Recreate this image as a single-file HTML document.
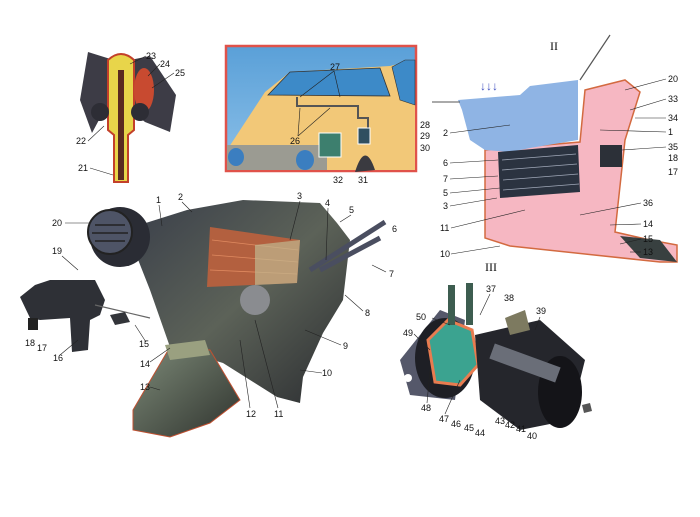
<!DOCTYPE html>
<html><head><meta charset="utf-8"><style>
html,body{margin:0;padding:0;background:#fff;}
svg{display:block}
text{font-family:"Liberation Sans",sans-serif;font-size:9px;fill:#111;}
.l{stroke:#222;stroke-width:0.6;fill:none}
</style></head><body>
<svg width="700" height="517" viewBox="0 0 700 517" xmlns="http://www.w3.org/2000/svg">
<defs>
<linearGradient id="dk" x1="0" y1="0" x2="1" y2="1"><stop offset="0" stop-color="#3a3f4a"/><stop offset="0.5" stop-color="#5c6258"/><stop offset="1" stop-color="#2a2c30"/></linearGradient>
<linearGradient id="duct" x1="0" y1="0" x2="1" y2="1"><stop offset="0" stop-color="#7d8a78"/><stop offset="1" stop-color="#2f332e"/></linearGradient>
<linearGradient id="sky" x1="0" y1="0" x2="0" y2="1"><stop offset="0" stop-color="#5aa0d8"/><stop offset="1" stop-color="#8cc0e8"/></linearGradient>
</defs>

<!-- Part I -->
<polygon points="88,52 120,62 150,56 176,95 170,132 145,122 140,118 100,118 92,133 80,100" fill="#3d3c46"/>
<path d="M108,60 Q121,48 134,60 L134,130 L128,135 L128,182 L114,182 L114,135 L108,130 Z" fill="#e8d54a" stroke="#c3402a" stroke-width="2"/>
<rect x="118" y="70" width="6" height="110" fill="#5a2a20"/>
<ellipse cx="144" cy="90" rx="10" ry="22" fill="#c84a30"/>
<ellipse cx="100" cy="112" rx="9" ry="9" fill="#2d2d35"/>
<ellipse cx="140" cy="112" rx="9" ry="9" fill="#2d2d35"/>
<text x="146" y="59">23</text><text x="160" y="67">24</text><text x="175" y="76">25</text>
<text x="76" y="144">22</text><text x="78" y="171">21</text>
<line class="l" x1="146" y1="56" x2="130" y2="64"/><line class="l" x1="160" y1="64" x2="148" y2="76"/><line class="l" x1="174" y1="73" x2="152" y2="88"/>
<line class="l" x1="88" y1="141" x2="104" y2="126"/><line class="l" x1="90" y1="168" x2="113" y2="175"/>

<!-- Car box -->
<rect x="226" y="46" width="190" height="125" fill="url(#sky)" stroke="#e0524a" stroke-width="2.5"/>
<polygon points="227,150 265,92 290,72 390,66 415,60 415,170 227,170" fill="#f2c878"/>
<polygon points="268,95 290,72 380,68 390,96" fill="#3d8ac8" stroke="#333" stroke-width="0.8"/>
<polygon points="392,67 405,60 415,60 415,105 400,100" fill="#3d8ac8" stroke="#333" stroke-width="0.6"/>
<rect x="227" y="145" width="100" height="25" fill="#9b9b92"/>
<ellipse cx="236" cy="157" rx="8" ry="9" fill="#3b7ec0"/>
<ellipse cx="305" cy="160" rx="9" ry="10" fill="#3b7ec0"/>
<path d="M355,172 Q365,140 375,170" fill="#3a3a40"/>
<polyline class="l" points="297,97 297,106 358,106 358,118 368,118 368,132" style="stroke:#555;stroke-width:2"/>
<rect x="319" y="133" width="22" height="24" fill="#3d7f6e" stroke="#fff"/>
<rect x="358" y="128" width="12" height="16" fill="#2f4f60" stroke="#fff"/>
<text x="330" y="70">27</text><text x="290" y="144">26</text>
<text x="420" y="128">28</text><text x="420" y="139">29</text><text x="420" y="151">30</text>
<text x="333" y="183">32</text><text x="358" y="183">31</text>
<line class="l" x1="334" y1="71" x2="300" y2="97"/><line class="l" x1="334" y1="71" x2="340" y2="97"/>
<line class="l" x1="298" y1="136" x2="300" y2="108"/><line class="l" x1="298" y1="136" x2="330" y2="108"/>

<!-- Part II -->
<text x="550" y="50" style="font-family:'Liberation Serif',serif;font-size:12px">II</text>
<polygon points="485,150 580,142 585,90 625,80 640,92 625,140 615,232 650,240 677,245 677,262 660,262 510,246 485,238" fill="#f6b7c2" stroke="#d36a40" stroke-width="1.5"/>
<polygon points="458,100 520,95 530,86 578,80 578,140 530,148 510,152 485,150 470,140 462,110" fill="#8fb4e4"/>
<polygon points="498,152 578,145 580,192 500,198" fill="#2b3340"/>
<g stroke="#a0a8b8" stroke-width="0.8">
<line x1="502" y1="160" x2="576" y2="154"/><line x1="502" y1="170" x2="577" y2="164"/><line x1="503" y1="180" x2="578" y2="174"/><line x1="503" y1="190" x2="579" y2="184"/>
</g>
<line x1="610" y1="35" x2="580" y2="80" stroke="#555" stroke-width="1.2"/>
<line x1="432" y1="102" x2="460" y2="102" stroke="#555"/>
<rect x="600" y="145" width="22" height="22" fill="#2c3038"/>
<polygon points="620,236 660,240 677,262 640,258" fill="#384040"/>
<g fill="#3f52b8"><text x="480" y="90" style="fill:#4050c0;font-size:12px">↓↓↓</text></g>
<text x="548" y="45" style="font-size:0"> </text>
<text x="443" y="136">2</text><text x="443" y="166">6</text><text x="443" y="182">7</text><text x="443" y="196">5</text><text x="443" y="209">3</text><text x="440" y="231">11</text><text x="440" y="257">10</text>
<text x="668" y="82">20</text><text x="668" y="102">33</text><text x="668" y="121">34</text><text x="668" y="135">1</text><text x="668" y="150">35</text><text x="668" y="161">18</text><text x="668" y="175">17</text>
<text x="643" y="206">36</text><text x="643" y="227">14</text><text x="643" y="242">15</text><text x="643" y="255">13</text>
<g class="l"><line x1="450" y1="133" x2="510" y2="125"/><line x1="450" y1="163" x2="498" y2="160"/><line x1="450" y1="179" x2="498" y2="176"/><line x1="450" y1="193" x2="500" y2="188"/><line x1="450" y1="206" x2="497" y2="198"/><line x1="451" y1="228" x2="525" y2="210"/><line x1="451" y1="254" x2="500" y2="246"/>
<line x1="666" y1="79" x2="625" y2="90"/><line x1="666" y1="99" x2="630" y2="110"/><line x1="666" y1="118" x2="635" y2="118"/><line x1="666" y1="132" x2="600" y2="130"/><line x1="666" y1="147" x2="622" y2="150"/><line x1="641" y1="203" x2="580" y2="215"/><line x1="641" y1="224" x2="610" y2="225"/><line x1="641" y1="239" x2="620" y2="244"/><line x1="641" y1="252" x2="630" y2="252"/></g>
<text x="485" y="271" style="font-family:'Liberation Serif',serif;font-size:12px">III</text>

<!-- Part III -->
<polygon points="400,360 440,310 465,320 455,400 410,395" fill="#55586a"/>
<circle cx="408" cy="378" r="4" fill="#fff"/>
<ellipse cx="445" cy="358" rx="30" ry="40" fill="#1e1f25"/>
<polygon points="428,340 448,320 472,330 478,365 460,385 435,382" fill="#3ba390" stroke="#e87c50" stroke-width="3"/>
<polygon points="475,335 540,320 585,360 570,420 520,430 480,400" fill="#25262c"/>
<ellipse cx="560" cy="392" rx="22" ry="36" fill="#141418"/>
<rect x="490" y="355" width="70" height="16" fill="#6a6e78" transform="rotate(20 525 363)"/>
<rect x="448" y="285" width="7" height="40" fill="#3d5d50"/><rect x="466" y="283" width="7" height="42" fill="#3d5d50"/>
<polygon points="505,318 525,310 530,330 510,335" fill="#7d7a60"/>
<text x="486" y="292">37</text><text x="504" y="301">38</text><text x="536" y="314">39</text><text x="416" y="320">50</text><text x="403" y="336">49</text>
<text x="421" y="411">48</text><text x="439" y="422">47</text><text x="451" y="427">46</text><text x="464" y="431">45</text><text x="475" y="436">44</text><text x="495" y="424">43</text><text x="505" y="428">42</text><text x="516" y="432">41</text><text x="527" y="439">40</text>
<g class="l"><line x1="432" y1="318" x2="450" y2="325"/><line x1="414" y1="334" x2="430" y2="350"/><line x1="427" y1="403" x2="430" y2="370"/><line x1="445" y1="414" x2="460" y2="380"/><line x1="490" y1="294" x2="480" y2="315"/><line x1="540" y1="317" x2="535" y2="330"/></g>
<polygon points="582,405 590,403 592,411 584,413" fill="#555"/>

<!-- Main heater -->
<polygon points="133,227 187,210 243,200 320,203 337,223 350,240 343,300 323,333 303,377 300,403 277,397 223,363 170,347 150,290 137,257" fill="url(#dk)"/>
<polygon points="210,227 300,240 297,283 207,287" fill="#b3603f"/>
<g stroke="#e08a60" stroke-width="0.8"><line x1="212" y1="240" x2="298" y2="250"/><line x1="212" y1="255" x2="298" y2="262"/><line x1="210" y1="270" x2="297" y2="274"/></g>
<polygon points="255,245 300,240 297,283 255,285" fill="#c0b890" opacity="0.7"/>
<polygon points="133,410 170,347 210,350 240,400 210,423 170,437 133,430" fill="url(#duct)" stroke="#c05030" stroke-width="1"/>
<polygon points="165,345 205,340 210,355 170,360" fill="#9aa080"/>
<circle cx="120" cy="237" r="30" fill="#2a2c34"/>
<circle cx="110" cy="232" r="22" fill="#4e5466" stroke="#222" stroke-width="2"/>
<g stroke="#222" stroke-width="1.5"><line x1="95" y1="225" x2="125" y2="225"/><line x1="92" y1="233" x2="128" y2="233"/><line x1="95" y1="241" x2="125" y2="241"/></g>
<circle cx="255" cy="300" r="15" fill="#8a8c90"/>
<line x1="310" y1="270" x2="385" y2="222" stroke="#4a4e60" stroke-width="5"/>
<line x1="320" y1="270" x2="380" y2="238" stroke="#4a4e60" stroke-width="5"/>
<!-- bracket -->
<polygon points="20,297 35,285 50,280 95,280 105,300 100,315 90,320 88,350 72,352 70,318 40,320 30,318" fill="#2e3036"/>
<rect x="28" y="318" width="10" height="12" fill="#222"/>
<line x1="95" y1="305" x2="150" y2="318" stroke="#666" stroke-width="1.2"/>
<polygon points="110,315 125,312 130,322 115,325" fill="#33353a"/>
<text x="156" y="203">1</text><text x="178" y="200">2</text><text x="297" y="199">3</text><text x="325" y="206">4</text><text x="349" y="213">5</text><text x="392" y="232">6</text><text x="389" y="277">7</text><text x="365" y="316">8</text><text x="343" y="349">9</text><text x="322" y="376">10</text>
<text x="274" y="417">11</text><text x="246" y="417">12</text><text x="140" y="390">13</text><text x="140" y="367">14</text><text x="139" y="347">15</text><text x="53" y="361">16</text><text x="37" y="351">17</text><text x="25" y="346">18</text><text x="52" y="254">19</text><text x="52" y="226">20</text>
<g class="l"><line x1="159" y1="205" x2="162" y2="226"/><line x1="182" y1="202" x2="192" y2="212"/><line x1="300" y1="201" x2="290" y2="240"/><line x1="328" y1="208" x2="326" y2="260"/><line x1="351" y1="215" x2="340" y2="222"/><line x1="65" y1="223" x2="90" y2="223"/><line x1="62" y1="256" x2="78" y2="270"/>
<line x1="341" y1="345" x2="305" y2="330"/><line x1="322" y1="373" x2="300" y2="370"/><line x1="278" y1="408" x2="255" y2="320"/><line x1="250" y1="408" x2="240" y2="340"/><line x1="150" y1="387" x2="160" y2="390"/><line x1="150" y1="362" x2="170" y2="348"/><line x1="146" y1="342" x2="135" y2="325"/><line x1="60" y1="355" x2="78" y2="340"/><line x1="386" y1="272" x2="372" y2="265"/><line x1="363" y1="311" x2="345" y2="295"/></g>
</svg>
</body></html>
